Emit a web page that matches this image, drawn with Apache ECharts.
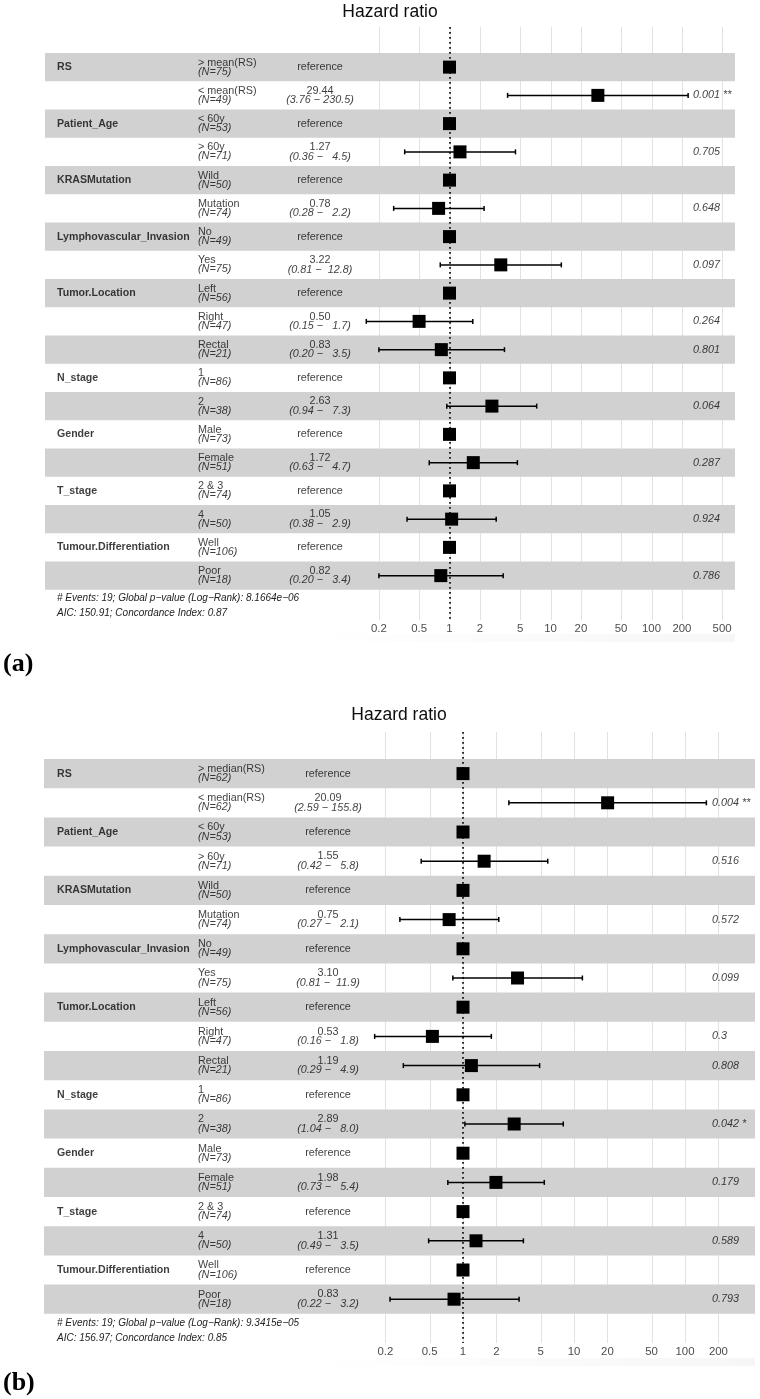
<!DOCTYPE html>
<html><head><meta charset="utf-8">
<script src="https://cdn.jsdelivr.net/npm/echarts@6/dist/echarts.min.js"></script>
<style>html,body{margin:0;padding:0;background:#fff}#c{width:760px;height:1399px}</style>
</head><body><div id="c"></div>
<script>
// ---------------- data ----------------
const variables = ['RS','Patient_Age','KRASMutation','Lymphovascular_Invasion','Tumor.Location','N_stage','Gender','T_stage','Tumour.Differentiation'];
const groupSizes = [2,2,2,2,3,2,2,2,2];

const levelsA = ['> mean(RS)','< mean(RS)','< 60y','> 60y','Wild','Mutation','No','Yes','Left','Right','Rectal','1','2','Male','Female','2 & 3','4','Well','Poor'];
const levelsB = ['> median(RS)','< median(RS)','< 60y','> 60y','Wild','Mutation','No','Yes','Left','Right','Rectal','1','2','Male','Female','2 & 3','4','Well','Poor'];
const nA = [75,49,53,71,50,74,49,75,56,47,21,86,38,73,51,74,50,106,18];
const nB = [62,62,53,71,50,74,49,75,56,47,21,86,38,73,51,74,50,106,18];

const hrA = [null,29.44,null,1.27,null,0.78,null,3.22,null,0.50,0.83,null,2.63,null,1.72,null,1.05,null,0.82];
const loA = [null,3.76,null,0.36,null,0.28,null,0.81,null,0.15,0.20,null,0.94,null,0.63,null,0.38,null,0.20];
const hiA = [null,230.5,null,4.5,null,2.2,null,12.8,null,1.7,3.5,null,7.3,null,4.7,null,2.9,null,3.4];
const pA  = [null,'0.001',null,'0.705',null,'0.648',null,'0.097',null,'0.264','0.801',null,'0.064',null,'0.287',null,'0.924',null,'0.786'];
const starsA = [null,'**',null,null,null,null,null,null,null,null,null,null,null,null,null,null,null,null,null];

const hrB = [null,20.09,null,1.55,null,0.75,null,3.10,null,0.53,1.19,null,2.89,null,1.98,null,1.31,null,0.83];
const loB = [null,2.59,null,0.42,null,0.27,null,0.81,null,0.16,0.29,null,1.04,null,0.73,null,0.49,null,0.22];
const hiB = [null,155.8,null,5.8,null,2.1,null,11.9,null,1.8,4.9,null,8.0,null,5.4,null,3.5,null,3.2];
const pB  = [null,'0.004',null,'0.516',null,'0.572',null,'0.099',null,'0.3','0.808',null,'0.042',null,'0.179',null,'0.589',null,'0.793'];
const starsB = [null,'**',null,null,null,null,null,null,null,null,null,null,'*',null,null,null,null,null,null];

const ticksA = [0.2,0.5,1,2,5,10,20,50,100,200,500];
const ticksB = [0.2,0.5,1,2,5,10,20,50,100,200];

const footerA = ['# Events: 19; Global p\u2212value (Log\u2212Rank): 8.1664e\u221206','AIC: 150.91; Concordance Index: 0.87'];
const footerB = ['# Events: 19; Global p\u2212value (Log\u2212Rank): 9.3415e\u221205','AIC: 156.97; Concordance Index: 0.85'];
const panelLabels = ['(a)','(b)'];
const titleText = 'Hazard ratio';
const referenceText = 'reference';

// ---------------- layout / style ----------------
const FONT = '"Liberation Sans", Arial, Helvetica, sans-serif';
const SERIF = '"Liberation Serif", "Times New Roman", serif';
const TXT = '#0d0d0d';
const BAND = '#d1d1d1';
const GRID = '#e2e2e2';
const layouts = [
  {left:45, right:735, one:449.5, decade:101, gridTop:27, gridBottom:620, bandTop:53, rowH:28.25,
   titleX:390, titleY:12, footY:[598,613], labelY:664, varX:57, levelX:198, estX:320, pX:693, shadeY:634},
  {left:44, right:755, one:463, decade:111, gridTop:732, gridBottom:1343, bandTop:759, rowH:29.2,
   titleX:399, titleY:715, footY:[1323,1338], labelY:1383, varX:57, levelX:198, estX:328, pX:712, shadeY:1358}
];
const panelData = [
  {levels:levelsA, n:nA, hr:hrA, lo:loA, hi:hiA, p:pA, stars:starsA, ticks:ticksA, footer:footerA},
  {levels:levelsB, n:nB, hr:hrB, lo:loB, hi:hiB, p:pB, stars:starsB, ticks:ticksB, footer:footerB}
];

const varOfRow = [];
groupSizes.forEach((g, vi) => { for (let j = 0; j < g; j++) varOfRow.push(j === 0 ? variables[vi] : null); });

const fmtTick = v => String(+(+v).toPrecision(6));
const fmtCI = (lo, hi) => '(' + lo.toFixed(2) + ' \u2212 ' + hi.toFixed(1).padStart(5, ' ') + ')';

const grids = [], xAxes = [], yAxes = [], series = [], graphic = [];

function buildPanel(k, L, d) {
  const W = L.right - L.left;
  const yMin = -((L.bandTop - L.gridTop) / L.rowH + 0.5);
  const yMax = yMin + (L.gridBottom - L.gridTop) / L.rowH;
  const nRows = d.levels.length;
  grids.push({left: L.left, top: L.gridTop, width: W, height: L.gridBottom - L.gridTop});
  xAxes.push({type:'log', logBase:10, gridIndex:k,
    min: Math.pow(10, (L.left - L.one) / L.decade), max: Math.pow(10, (L.right - L.one) / L.decade), show:false});
  xAxes.push({type:'value', gridIndex:k, min:0, max:W, show:false});
  yAxes.push({type:'value', gridIndex:k, inverse:true, min:yMin, max:yMax, show:false});
  const xl = 2 * k, xv = 2 * k + 1;
  const rows = [...Array(nRows).keys()];

  // grid lines + tick labels
  series.push({type:'custom', xAxisIndex:xl, yAxisIndex:k, z:1, silent:true, clip:false, animation:false,
    data: d.ticks.map(t => [t, 0]), encode:{x:0, y:1},
    renderItem(params, api) {
      const t = api.value(0);
      const a = api.coord([t, yMin]), b = api.coord([t, yMax]);
      const x = Math.round(a[0]) + 0.5;
      return {type:'group', children:[
        {type:'line', shape:{x1:x, y1:a[1], x2:x, y2:b[1]}, style:{stroke:GRID, lineWidth:1}},
        {type:'text', style:{text: fmtTick(t), x:a[0], y:b[1] + 3, textAlign:'center', align:'center',
          textVerticalAlign:'top', verticalAlign:'top', fill:'#4d4d4d', font:'11.4px ' + FONT}}
      ]};
    }});

  // alternating bands
  series.push({type:'custom', xAxisIndex:xv, yAxisIndex:k, z:2, silent:true, animation:false,
    data: rows.filter(i => i % 2 === 0).map(i => [0, i]), encode:{x:0, y:1},
    renderItem(params, api) {
      const r = api.value(1);
      const a = api.coord([0, r - 0.5]), b = api.coord([W, r + 0.5]);
      return {type:'rect', shape:{x:a[0], y:a[1], width:b[0] - a[0], height:b[1] - a[1]}, style:{fill:BAND}};
    }});

  // confidence intervals
  series.push({type:'custom', xAxisIndex:xl, yAxisIndex:k, z:4, silent:true, animation:false,
    data: rows.filter(i => d.lo[i] != null).map(i => [d.lo[i], d.hi[i], i]), encode:{x:[0,1], y:2},
    renderItem(params, api) {
      const r = api.value(2);
      const a = api.coord([api.value(0), r]), b = api.coord([api.value(1), r]);
      const st = {stroke:'#000', lineWidth:1.5};
      return {type:'group', children:[
        {type:'line', shape:{x1:a[0], y1:a[1], x2:b[0], y2:b[1]}, style:st},
        {type:'line', shape:{x1:a[0], y1:a[1] - 2.5, x2:a[0], y2:a[1] + 2.5}, style:st},
        {type:'line', shape:{x1:b[0], y1:b[1] - 2.5, x2:b[0], y2:b[1] + 2.5}, style:st}
      ]};
    }});

  // point estimates + reference line at 1
  series.push({type:'scatter', xAxisIndex:xl, yAxisIndex:k, z:5, silent:true, animation:false,
    symbol:'rect', symbolSize:13, itemStyle:{color:'#000', opacity:1},
    data: rows.map(i => [d.hr[i] == null ? 1 : d.hr[i], i]),
    markLine:{silent:true, symbol:['none','none'], animation:false, label:{show:false},
      lineStyle:{color:'#000', type:[1.8,3.2], width:1.6, opacity:1}, data:[{xAxis:1}]}});

  const textBase = {type:'scatter', xAxisIndex:xv, yAxisIndex:k, z:6, silent:true, animation:false,
    symbolSize:0, itemStyle:{color:'transparent'}};
  // variable names
  series.push(Object.assign({}, textBase, {
    data: rows.filter(i => varOfRow[i]).map(i => ({value:[L.varX - L.left, i], name: varOfRow[i]})),
    label:{show:true, position:'right', distance:0, formatter:'{b}', color:TXT, fontFamily:FONT, fontSize:10.6, fontWeight:'bold'}}));
  // levels with N
  series.push(Object.assign({}, textBase, {
    data: rows.map(i => [L.levelX - L.left, i]),
    label:{show:true, position:'right', distance:0, color:TXT, fontFamily:FONT,
      formatter: p => '{lv|' + d.levels[p.dataIndex] + '}\n{nn|(N=' + d.n[p.dataIndex] + ')}',
      rich:{lv:{fontSize:10.8, lineHeight:9, color:TXT, fontFamily:FONT},
            nn:{fontSize:10.8, lineHeight:9, color:TXT, fontFamily:FONT, fontStyle:'italic'}}}}));
  // estimates
  series.push(Object.assign({}, textBase, {
    data: rows.map(i => [L.estX - L.left, i]),
    label:{show:true, position:'inside', color:TXT, fontFamily:FONT, fontSize:10.8,
      formatter: p => { const i = p.dataIndex; return d.hr[i] == null ? '{rf|' + referenceText + '}'
        : '{hr|' + d.hr[i].toFixed(2) + '}\n{ci|' + fmtCI(d.lo[i], d.hi[i]) + '}'; },
      rich:{rf:{fontSize:10.8, color:TXT, fontFamily:FONT},
            hr:{fontSize:10.8, lineHeight:9.5, color:TXT, fontFamily:FONT},
            ci:{fontSize:10.8, lineHeight:9.5, color:TXT, fontFamily:FONT, fontStyle:'italic'}}}}));
  // p-values
  series.push(Object.assign({}, textBase, {
    data: rows.filter(i => d.p[i] != null).map(i => ({value:[L.pX - L.left, i], name: d.p[i] + (d.stars[i] ? ' ' + d.stars[i] : '')})),
    label:{show:true, position:'right', distance:0, formatter:'{b}', color:TXT, fontFamily:FONT, fontSize:10.8, fontStyle:'italic'}}));

  // title, footers, panel label, faint shade under axis
  graphic.push({type:'rect', silent:true, shape:{x:300, y:L.shadeY, width:L.right - 300, height:8},
    style:{fill:new echarts.graphic.LinearGradient(0, 0, 1, 0, [{offset:0, color:'rgba(0,0,0,0)'}, {offset:1, color:'rgba(0,0,0,0.035)'}])}});
  graphic.push({type:'text', x:L.titleX, y:L.titleY, silent:true,
    style:{text:titleText, font:'17.5px ' + FONT, fill:TXT, textAlign:'center', align:'center', textVerticalAlign:'middle', verticalAlign:'middle'}});
  d.footer.forEach((t, j) => graphic.push({type:'text', x:L.varX, y:L.footY[j], silent:true,
    style:{text:t, font:'italic 10px ' + FONT, fill:'#222', textAlign:'left', align:'left', textVerticalAlign:'middle', verticalAlign:'middle'}}));
  graphic.push({type:'text', x:3, y:L.labelY, silent:true,
    style:{text:panelLabels[k], font:'bold 26px ' + SERIF, fill:'#000', textAlign:'left', align:'left', textVerticalAlign:'middle', verticalAlign:'middle'}});
}

layouts.forEach((L, k) => buildPanel(k, L, panelData[k]));

const chart = echarts.init(document.getElementById('c'), null, {renderer:'canvas'});
chart.setOption({animation:false, backgroundColor:'#fff', grid:grids, xAxis:xAxes, yAxis:yAxes, series:series, graphic:graphic});
</script></body></html>
